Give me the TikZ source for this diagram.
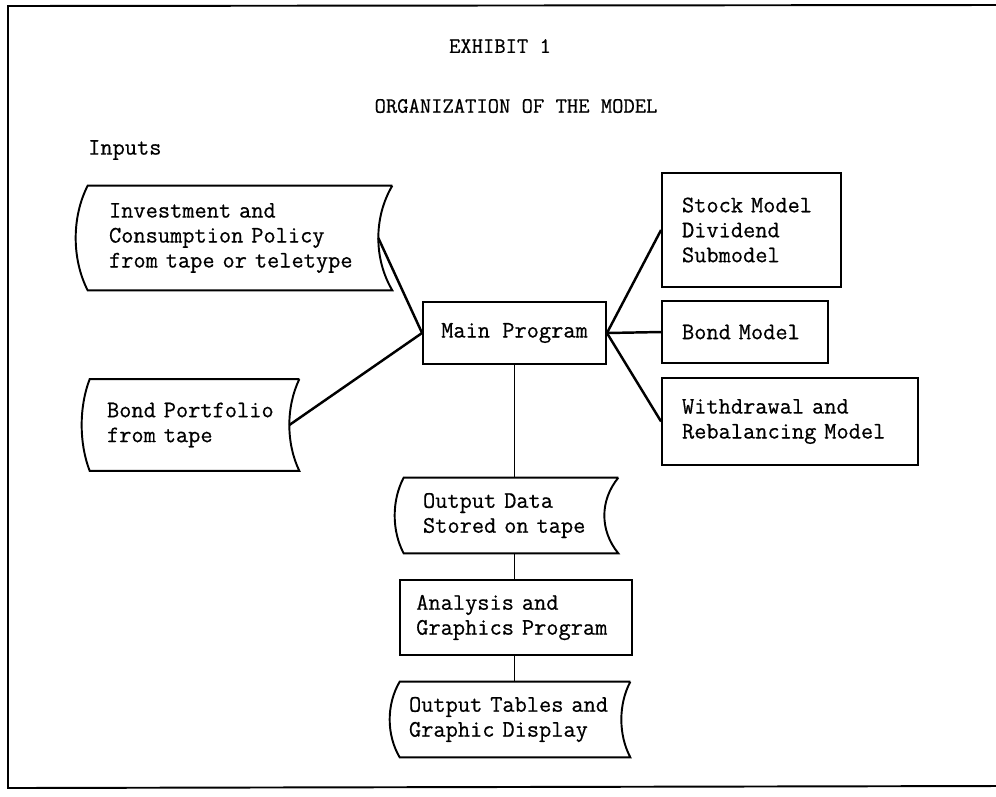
\documentclass[tikz,border=0pt]{standalone}
\usepackage{fontspec}
\newfontfamily\typewriter{Latin Modern Mono}[FakeBold=0.6]
\usetikzlibrary{calc}

% tape outline round a node: #1 node, #2 left bulge, #3 right bulge
\newcommand{\tapeshape}[3]{%
  \draw[boxline] (#1.north east) -- (#1.north west)
    .. controls ($(#1.north west)!0.3!(#1.south west)+(-4/3*#2,0)$)
           and ($(#1.north west)!0.7!(#1.south west)+(-4/3*#2,0)$) .. (#1.south west)
    -- (#1.south east)
    .. controls ($(#1.north east)!0.7!(#1.south east)+(-4/3*#3,0)$)
           and ($(#1.north east)!0.3!(#1.south east)+(-4/3*#3,0)$) .. (#1.north east);}

\begin{document}
\begin{tikzpicture}[
  x=0.02cm, y=-0.02cm,
  every node/.style={font=\typewriter\fontsize{13.5}{14.2}\selectfont},
  boxline/.style={line width=1.1pt},
  link/.style={line width=1.4pt},
  progbox/.style={rectangle, draw, boxline, inner ysep=0pt, align=left},
  tapebox/.style={rectangle, inner ysep=0pt, align=left},
  titletext/.style={font=\typewriter\fontsize{12.5}{14}\selectfont},
]
\useasboundingbox (0,0) rectangle (996,796);

% frame, open on the right
\draw[boxline] (996,5) -- (8,6) -- (8,788) -- (996,786);

\node[titletext] (exh) at (500,46) {EXHIBIT 1};
\node[titletext] (org) at (516,106) {ORGANIZATION OF THE MODEL};

% Inputs
\node[anchor=west] (inp) at (82,150) {Inputs};
\node[tapebox, text width=5.24cm, inner xsep=0.42cm, minimum height=2.08cm] (invest) at (240,238) {Investment and\\Consumption Policy\\from tape or teletype};
\node[tapebox, text width=3.5cm, inner xsep=0.34cm, minimum height=1.82cm] (bond) at (194.5,425) {Bond Portfolio\\from tape};
\tapeshape{invest}{12}{14}
\tapeshape{bond}{8}{10}

% Main program and the models
\node[progbox, minimum width=3.66cm, minimum height=1.24cm, align=center] (main) at (514.5,333) {Main Program};
\node[progbox, text width=2.78cm, inner xsep=0.4cm, minimum height=2.28cm] (stock) at (751.5,230) {Stock Model\\Dividend\\Submodel};
\node[progbox, text width=2.52cm, inner xsep=0.4cm, minimum height=1.24cm] (bondm) at (745,332) {Bond Model};
\node[progbox, text width=4.32cm, inner xsep=0.4cm, minimum height=1.74cm] (withdraw) at (790,421.5) {Withdrawal and\\Rebalancing Model};

\draw[link] ($(invest.east)+(-14,0)$) -- (main.west);
\draw[link] ($(bond.east)+(-10,0)$) -- (main.west);
\draw[link] (main.east) -- (stock.west);
\draw[link] (main.east) -- (bondm.west);
\draw[link] (main.east) -- (withdraw.west);

% Outputs
\node[tapebox, text width=3.52cm, inner xsep=0.38cm, minimum height=1.5cm] (outdata) at (511,515.5) {Output Data\\Stored on tape};
\node[progbox, text width=3.99cm, inner xsep=0.325cm, minimum height=1.5cm] (analysis) at (516,617.5) {Analysis and\\Graphics Program};
\node[tapebox, text width=4.24cm, inner xsep=0.18cm, minimum height=1.5cm] (outtab) at (515,719.5) {Output Tables and\\Graphic Display};
\tapeshape{outdata}{9}{14}
\tapeshape{outtab}{10}{9}

\draw[boxline] (main.south) -- (main.south |- outdata.north);
\draw[boxline] (outdata.south -| main.south) -- (main.south |- analysis.north);
\draw[boxline] (analysis.south -| main.south) -- (main.south |- outtab.north);

\end{tikzpicture}
\end{document}
